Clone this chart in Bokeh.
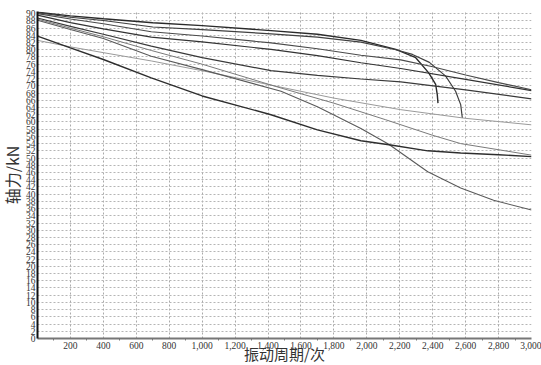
from bokeh.plotting import figure
from bokeh.models import FixedTicker, NumeralTickFormatter, Range1d, Title
from bokeh.embed import file_html
from bokeh.resources import INLINE

# ---- data (cycles, axial force kN) ----
A_x = [0, 200, 400, 700, 1000, 1418, 1700, 1964, 2176, 2297, 2376, 2418, 2428, 2432]
A_y = [90.4, 89.4, 88.6, 87.5, 86.7, 85.3, 84.3, 82.6, 80.1, 77.8, 73.6, 70.4, 67.5, 65.2]

B_x = [0, 200, 400, 700, 1000, 1418, 1700, 1964, 2176, 2277, 2380, 2479, 2539, 2570, 2580]
B_y = [90.3, 89.0, 88.1, 86.3, 85.6, 84.4, 83.5, 82.1, 80.0, 78.7, 76.5, 72.7, 68.5, 64.8, 61.1]

X_x = [0, 200, 400, 691, 1000, 1418, 1700, 1964, 2206, 2400, 2600, 2800, 3000]
X_y = [90.0, 88.5, 87.2, 85.0, 83.8, 81.9, 80.3, 78.5, 77.2, 75.3, 73.0, 70.9, 68.9]

C_x = [0, 200, 400, 691, 1000, 1418, 1700, 1964, 2206, 2600, 3000]
C_y = [89.6, 87.5, 85.8, 83.5, 82.2, 80.1, 78.4, 76.4, 74.8, 71.8, 68.7]

D_x = [0, 200, 400, 691, 1000, 1418, 1700, 1964, 2206, 2600, 3000]
D_y = [88.8, 86.5, 84.3, 81.0, 77.8, 74.2, 72.9, 71.9, 71.1, 68.9, 66.4]

E_x = [0, 200, 400, 691, 1000, 1418, 1800, 2206, 2600, 3000]
E_y = [82.6, 80.8, 79.2, 76.9, 74.2, 70.2, 66.6, 63.4, 61.0, 59.2]

F_x = [0, 200, 400, 691, 1000, 1479, 1800, 2115, 2400, 2570, 2800, 3000]
F_y = [88.5, 86.0, 83.6, 79.8, 76.0, 69.4, 65.2, 60.6, 56.3, 54.0, 52.3, 50.8]

H_x = [0, 200, 400, 691, 1000, 1479, 1700, 1964, 2133, 2370, 2570, 2770, 3000]
H_y = [88.2, 85.6, 83.1, 78.2, 74.5, 68.5, 64.2, 58.2, 53.8, 46.2, 41.7, 38.3, 35.6]

G_x = [0, 200, 400, 691, 1000, 1418, 1700, 1964, 2145, 2370, 2570, 2800, 3000]
G_y = [83.8, 80.5, 77.3, 72.2, 67.2, 62.0, 57.8, 54.8, 53.6, 52.0, 51.4, 50.9, 50.4]

x_ticks = list(range(200, 3001, 200))
x_grid = list(range(0, 3001, 200))
x_minor = list(range(100, 3001, 200))
y_ticks = list(range(0, 91, 2))
x_title = "振动周期/次"
y_title = "轴力/kN"

series = [
    (A_x, A_y, "#2b2b2b", 1.4),
    (B_x, B_y, "#404040", 1.2),
    (X_x, X_y, "#4a4a4a", 1.1),
    (C_x, C_y, "#333333", 1.2),
    (D_x, D_y, "#3a3a3a", 1.2),
    (E_x, E_y, "#9a9a9a", 1.0),
    (F_x, F_y, "#7a7a7a", 1.0),
    (H_x, H_y, "#5a5a5a", 1.1),
    (G_x, G_y, "#2e2e2e", 1.4),
]

p = figure(width=541, height=365, output_backend="svg", toolbar_location=None,
           x_range=Range1d(0, 3000), y_range=Range1d(0, 90.6),
           min_border_left=36, min_border_right=10, min_border_top=11, min_border_bottom=27)
p.outline_line_color = None
p.background_fill_color = "white"

for xs, ys, c, w in series:
    p.line(xs, ys, line_color=c, line_width=w)

# axes
p.xaxis.ticker = FixedTicker(ticks=x_ticks, minor_ticks=x_minor)
p.xaxis.formatter = NumeralTickFormatter(format="0,0")
p.yaxis.ticker = FixedTicker(ticks=y_ticks)

for ax in (p.xaxis[0], p.yaxis[0]):
    ax.major_label_text_font = "Liberation Serif"
    ax.major_label_text_font_size = "9.5px"
    ax.major_label_text_color = "#333333"
    ax.major_tick_line_color = None
    ax.major_tick_out = 0
    ax.major_tick_in = 0
    ax.major_label_standoff = 2
p.xaxis.major_label_standoff = 1

p.xaxis.axis_line_color = "#777777"
p.xaxis.axis_line_width = 2
p.xaxis.minor_tick_line_color = "#777777"
p.xaxis.minor_tick_in = 0
p.xaxis.minor_tick_out = 2
p.yaxis.axis_line_color = "#111111"
p.yaxis.axis_line_width = 2
p.yaxis.minor_tick_line_color = None

p.xgrid.ticker = FixedTicker(ticks=x_grid)
p.xgrid.grid_line_color = "#aaaaaa"
p.xgrid.grid_line_dash = "2 2"
p.xgrid.grid_line_width = 1
p.ygrid.ticker = FixedTicker(ticks=y_ticks)
p.ygrid.grid_line_color = "#b5b5b5"
p.ygrid.grid_line_dash = "2 2"
p.ygrid.grid_line_width = 1

# axis titles as side-panel titles
p.add_layout(Title(text=x_title, align="center", vertical_align="middle",
                   text_font="Noto Sans CJK SC", text_font_size="15px",
                   text_font_style="normal", text_color="#333333", standoff=-20), "below")
p.add_layout(Title(text=y_title, align="center", vertical_align="middle",
                   text_font="Noto Sans CJK SC", text_font_size="16px",
                   text_font_style="normal", text_color="#333333", standoff=-4), "left")

open("out.html", "w").write(file_html(p, INLINE))
